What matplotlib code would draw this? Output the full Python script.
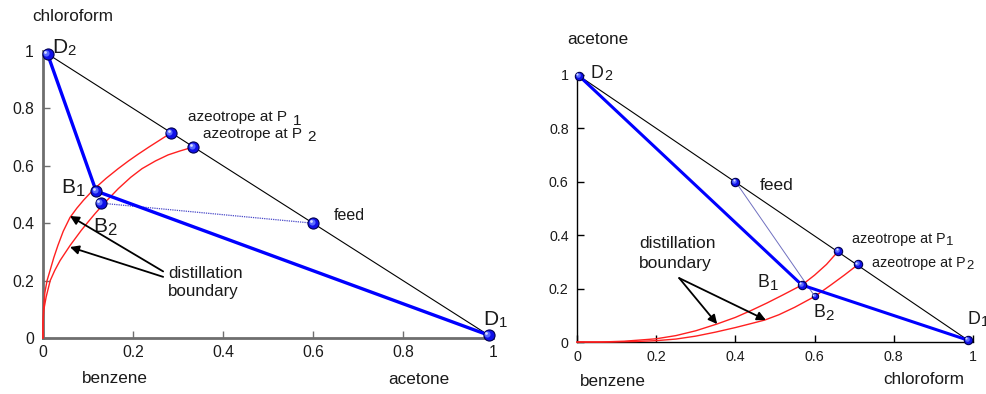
import matplotlib
matplotlib.use("Agg")
import matplotlib.pyplot as plt
from matplotlib import transforms

plt.rcParams['font.family'] = ['Liberation Sans', 'DejaVu Sans']

# ---------------- data: left panel (benzene / acetone / chloroform) -------------
L_D2 = (0.01, 0.99)
L_D1 = (0.99, 0.01)
L_B1 = (0.118, 0.512)
L_B2 = (0.128, 0.470)
L_feed = (0.60, 0.40)
L_az1 = (0.284, 0.714)
L_az2 = (0.333, 0.665)
L_outer_x = [0.0, 0.0, 0.001, 0.004, 0.009, 0.016, 0.024, 0.033, 0.045, 0.06, 0.075,
             0.09, 0.105, 0.12, 0.14, 0.167, 0.19, 0.211, 0.235, 0.26, 0.284]
L_outer_y = [0.0, 0.05, 0.10, 0.157, 0.20, 0.237, 0.28, 0.322, 0.372, 0.42, 0.452,
             0.48, 0.505, 0.528, 0.556, 0.59, 0.617, 0.64, 0.665, 0.69, 0.714]
L_inner_x = [0.0, 0.0, 0.002, 0.007, 0.016, 0.026, 0.038, 0.06, 0.085, 0.10, 0.116,
             0.14, 0.167, 0.195, 0.22, 0.25, 0.278, 0.305, 0.333]
L_inner_y = [0.0, 0.05, 0.10, 0.143, 0.20, 0.235, 0.27, 0.322, 0.375, 0.404, 0.434,
             0.476, 0.52, 0.56, 0.59, 0.617, 0.638, 0.652, 0.665]
L_ticks = [0, 0.2, 0.4, 0.6, 0.8, 1]
L_ticklabels = ['0', '0.2', '0.4', '0.6', '0.8', '1']

# ---------------- data: right panel -------------
R_D2 = (0.005, 0.995)
R_D1 = (0.987, 0.007)
R_B1 = (0.568, 0.213)
R_B2 = (0.60, 0.172)
R_feed = (0.40, 0.60)
R_az1 = (0.66, 0.34)
R_az2 = (0.71, 0.29)
R_outer_x = [0.0, 0.06, 0.12, 0.2, 0.25, 0.3, 0.353, 0.4, 0.44, 0.48, 0.52, 0.568,
             0.6, 0.63, 0.66]
R_outer_y = [0.0, 0.0, 0.003, 0.012, 0.024, 0.042, 0.067, 0.092, 0.118, 0.146, 0.176,
             0.213, 0.25, 0.29, 0.34]
R_inner_x = [0.0, 0.08, 0.15, 0.2, 0.25, 0.3, 0.35, 0.4, 0.44, 0.474, 0.51, 0.55,
             0.6, 0.64, 0.675, 0.71]
R_inner_y = [0.0, 0.0, 0.002, 0.005, 0.011, 0.022, 0.037, 0.054, 0.069, 0.082, 0.102,
             0.13, 0.17, 0.212, 0.25, 0.29]
R_ticks = [0, 0.2, 0.4, 0.6, 0.8, 1]
R_ticklabels = ['0', '0.2', '0.4', '0.6', '0.8', '1']

W, H = 986, 394
fig = plt.figure(figsize=(W / 100, H / 100), dpi=100)
renderer = fig.canvas.get_renderer()
tc = '#1a1a1a'


def px_axes(x0, x1, y0, y1):
    return fig.add_axes([x0 / W, 1 - y0 / H, (x1 - x0) / W, (y0 - y1) / H])


def sphere(ax, pt, size):
    x, y = pt
    ax.plot([x], [y], 'o', ms=size, mfc='#1010e8', mec='#000050', mew=0.8,
            zorder=10, clip_on=False)
    off = transforms.offset_copy(ax.transData, fig=fig, x=-size * 0.12,
                                 y=size * 0.12, units='points')
    ax.plot([x], [y], 'o', ms=size * 0.55, mfc='#5a6cff', mec='none',
            zorder=11, clip_on=False, transform=off)
    off2 = transforms.offset_copy(ax.transData, fig=fig, x=-size * 0.2,
                                  y=size * 0.2, units='points')
    ax.plot([x], [y], 'o', ms=size * 0.25, mfc='#d8dcff', mec='none',
            zorder=12, clip_on=False, transform=off2)


def label(ax, x, y, main, sub=None, fs=11, sub_ratio=0.8, gap=0.0, drop=3.0):
    """main text with baseline at (x, y); optional subscript after it
    (gap and drop in pixels)."""
    t = ax.text(x, y, main, fontsize=fs, ha='left', va='baseline', color=tc)
    if sub is not None:
        bb = t.get_window_extent(renderer=renderer)
        xd, yd = ax.transData.transform((x, y))
        fig.text((bb.x1 + gap) / W, (yd - drop) / H, sub, fontsize=fs * sub_ratio,
                 ha='left', va='baseline', color=tc)


def style_axes(ax, spine_color, spine_lw, fs, ticks, labels, xpad, ypad):
    ax.set_xlim(0, 1)
    ax.set_ylim(0, 1)
    for s in ['top', 'right']:
        ax.spines[s].set_visible(False)
    for s in ['left', 'bottom']:
        ax.spines[s].set_color(spine_color)
        ax.spines[s].set_linewidth(spine_lw)
    ax.set_xticks(ticks)
    ax.set_yticks(ticks)
    ax.set_xticklabels(labels)
    ax.set_yticklabels(labels)
    ax.tick_params(direction='in', length=5, width=1, color=spine_color,
                   labelsize=fs, labelcolor=tc)
    ax.tick_params(axis='x', pad=xpad)
    ax.tick_params(axis='y', pad=ypad)
    ax.patch.set_alpha(0)


def ftext(px, py, s, fs):
    fig.text(px / W, 1 - py / H, s, fontsize=fs, ha='left', va='baseline', color=tc)


arrow_kw = dict(arrowstyle='-|>', color='k', lw=1.3, mutation_scale=13,
                shrinkA=0, shrinkB=0)

# ================= left panel =================
axL = px_axes(43, 493, 338, 51)
style_axes(axL, '#6e6e6e', 2.0, 11.3, L_ticks, L_ticklabels, 5.0, 6.5)

axL.plot([L_D2[0], L_D1[0]], [L_D2[1], L_D1[1]], color='k', lw=0.8, zorder=2)
axL.plot(L_outer_x, L_outer_y, color='#ff2020', lw=1.0, zorder=3, clip_on=False)
axL.plot(L_inner_x, L_inner_y, color='#ff2020', lw=1.0, zorder=3, clip_on=False)
axL.plot([L_D2[0], L_B1[0], L_D1[0]], [L_D2[1], L_B1[1], L_D1[1]],
         color='#0000ff', lw=2.4, zorder=5, clip_on=False)
axL.plot([L_B2[0], L_feed[0]], [L_B2[1], L_feed[1]], color='#4848c8', lw=0.9,
         ls=(0, (1, 0.8)), zorder=4)
for p in [L_D2, L_D1, L_B1, L_B2, L_feed, L_az1, L_az2]:
    sphere(axL, p, 8)

label(axL, 0.02, 0.993, 'D', '2', fs=15, sub_ratio=0.72, gap=0.5, drop=2.0)
label(axL, 0.978, 0.045, 'D', '1', fs=15, sub_ratio=0.72, gap=0.5, drop=2.0)
label(axL, 0.040, 0.505, 'B', '1', fs=15, sub_ratio=0.8, gap=0.5, drop=3.0)
label(axL, 0.111, 0.369, 'B', '2', fs=15, sub_ratio=0.8, gap=0.5, drop=3.0)
label(axL, 0.322, 0.756, 'azeotrope at P', '1', fs=11, sub_ratio=1.0, gap=5.5, drop=3.5)
label(axL, 0.356, 0.697, 'azeotrope at P', '2', fs=11, sub_ratio=1.0, gap=5.5, drop=3.5)
label(axL, 0.647, 0.411, 'feed', fs=11.5)
label(axL, 0.278, 0.209, 'distillation', fs=12.2)
label(axL, 0.278, 0.146, 'boundary', fs=12.2)
axL.annotate('', xy=(0.06, 0.425), xytext=(0.267, 0.232), arrowprops=arrow_kw)
axL.annotate('', xy=(0.06, 0.317), xytext=(0.267, 0.213), arrowprops=arrow_kw)

ftext(32, 21, 'chloroform', 12.3)
ftext(82, 383, 'benzene', 12.3)
ftext(388, 384, 'acetone', 12.3)

# ================= right panel =================
axR = px_axes(577, 973, 342, 74.5)
style_axes(axR, 'k', 1.0, 10.3, R_ticks, R_ticklabels, 6.0, 6.0)

axR.plot([R_D2[0], R_D1[0]], [R_D2[1], R_D1[1]], color='k', lw=0.8, zorder=2)
axR.plot(R_outer_x, R_outer_y, color='#ff2020', lw=1.0, zorder=3, clip_on=False)
axR.plot(R_inner_x, R_inner_y, color='#ff2020', lw=1.0, zorder=3, clip_on=False)
axR.plot([R_D2[0], R_B1[0], R_D1[0]], [R_D2[1], R_B1[1], R_D1[1]],
         color='#0000ff', lw=2.2, zorder=5, clip_on=False)
axR.plot([R_feed[0], R_B2[0]], [R_feed[1], R_B2[1]], color='#7070c0', lw=0.7, zorder=4)
for p in [R_D2, R_D1, R_B1, R_feed, R_az1, R_az2]:
    sphere(axR, p, 6)
sphere(axR, R_B2, 4.5)

label(axR, 0.035, 0.987, 'D', '2', fs=12.8, sub_ratio=0.8, gap=0.5, drop=2.0)
label(axR, 0.987, 0.067, 'D', '1', fs=12.8, sub_ratio=0.8, gap=0.5, drop=2.0)
label(axR, 0.457, 0.206, 'B', '1', fs=12.8, sub_ratio=0.85, gap=0.5, drop=2.7)
label(axR, 0.596, 0.093, 'B', '2', fs=12.8, sub_ratio=0.85, gap=0.5, drop=2.7)
label(axR, 0.462, 0.568, 'feed', fs=12.5)
label(axR, 0.695, 0.370, 'azeotrope at P', '1', fs=10.3, sub_ratio=0.92, gap=0.3, drop=2.2)
label(axR, 0.745, 0.280, 'azeotrope at P', '2', fs=10.3, sub_ratio=0.92, gap=0.3, drop=2.2)
label(axR, 0.157, 0.351, 'distillation', fs=12.5)
label(axR, 0.157, 0.277, 'boundary', fs=12.5)
axR.annotate('', xy=(0.354, 0.067), xytext=(0.258, 0.239), arrowprops=arrow_kw)
axR.annotate('', xy=(0.477, 0.082), xytext=(0.258, 0.239), arrowprops=arrow_kw)

ftext(567, 44, 'acetone', 12.3)
ftext(580, 386, 'benzene', 12.3)
ftext(883, 384, 'chloroform', 12.3)

fig.savefig('out.png', dpi=100, facecolor='white')
